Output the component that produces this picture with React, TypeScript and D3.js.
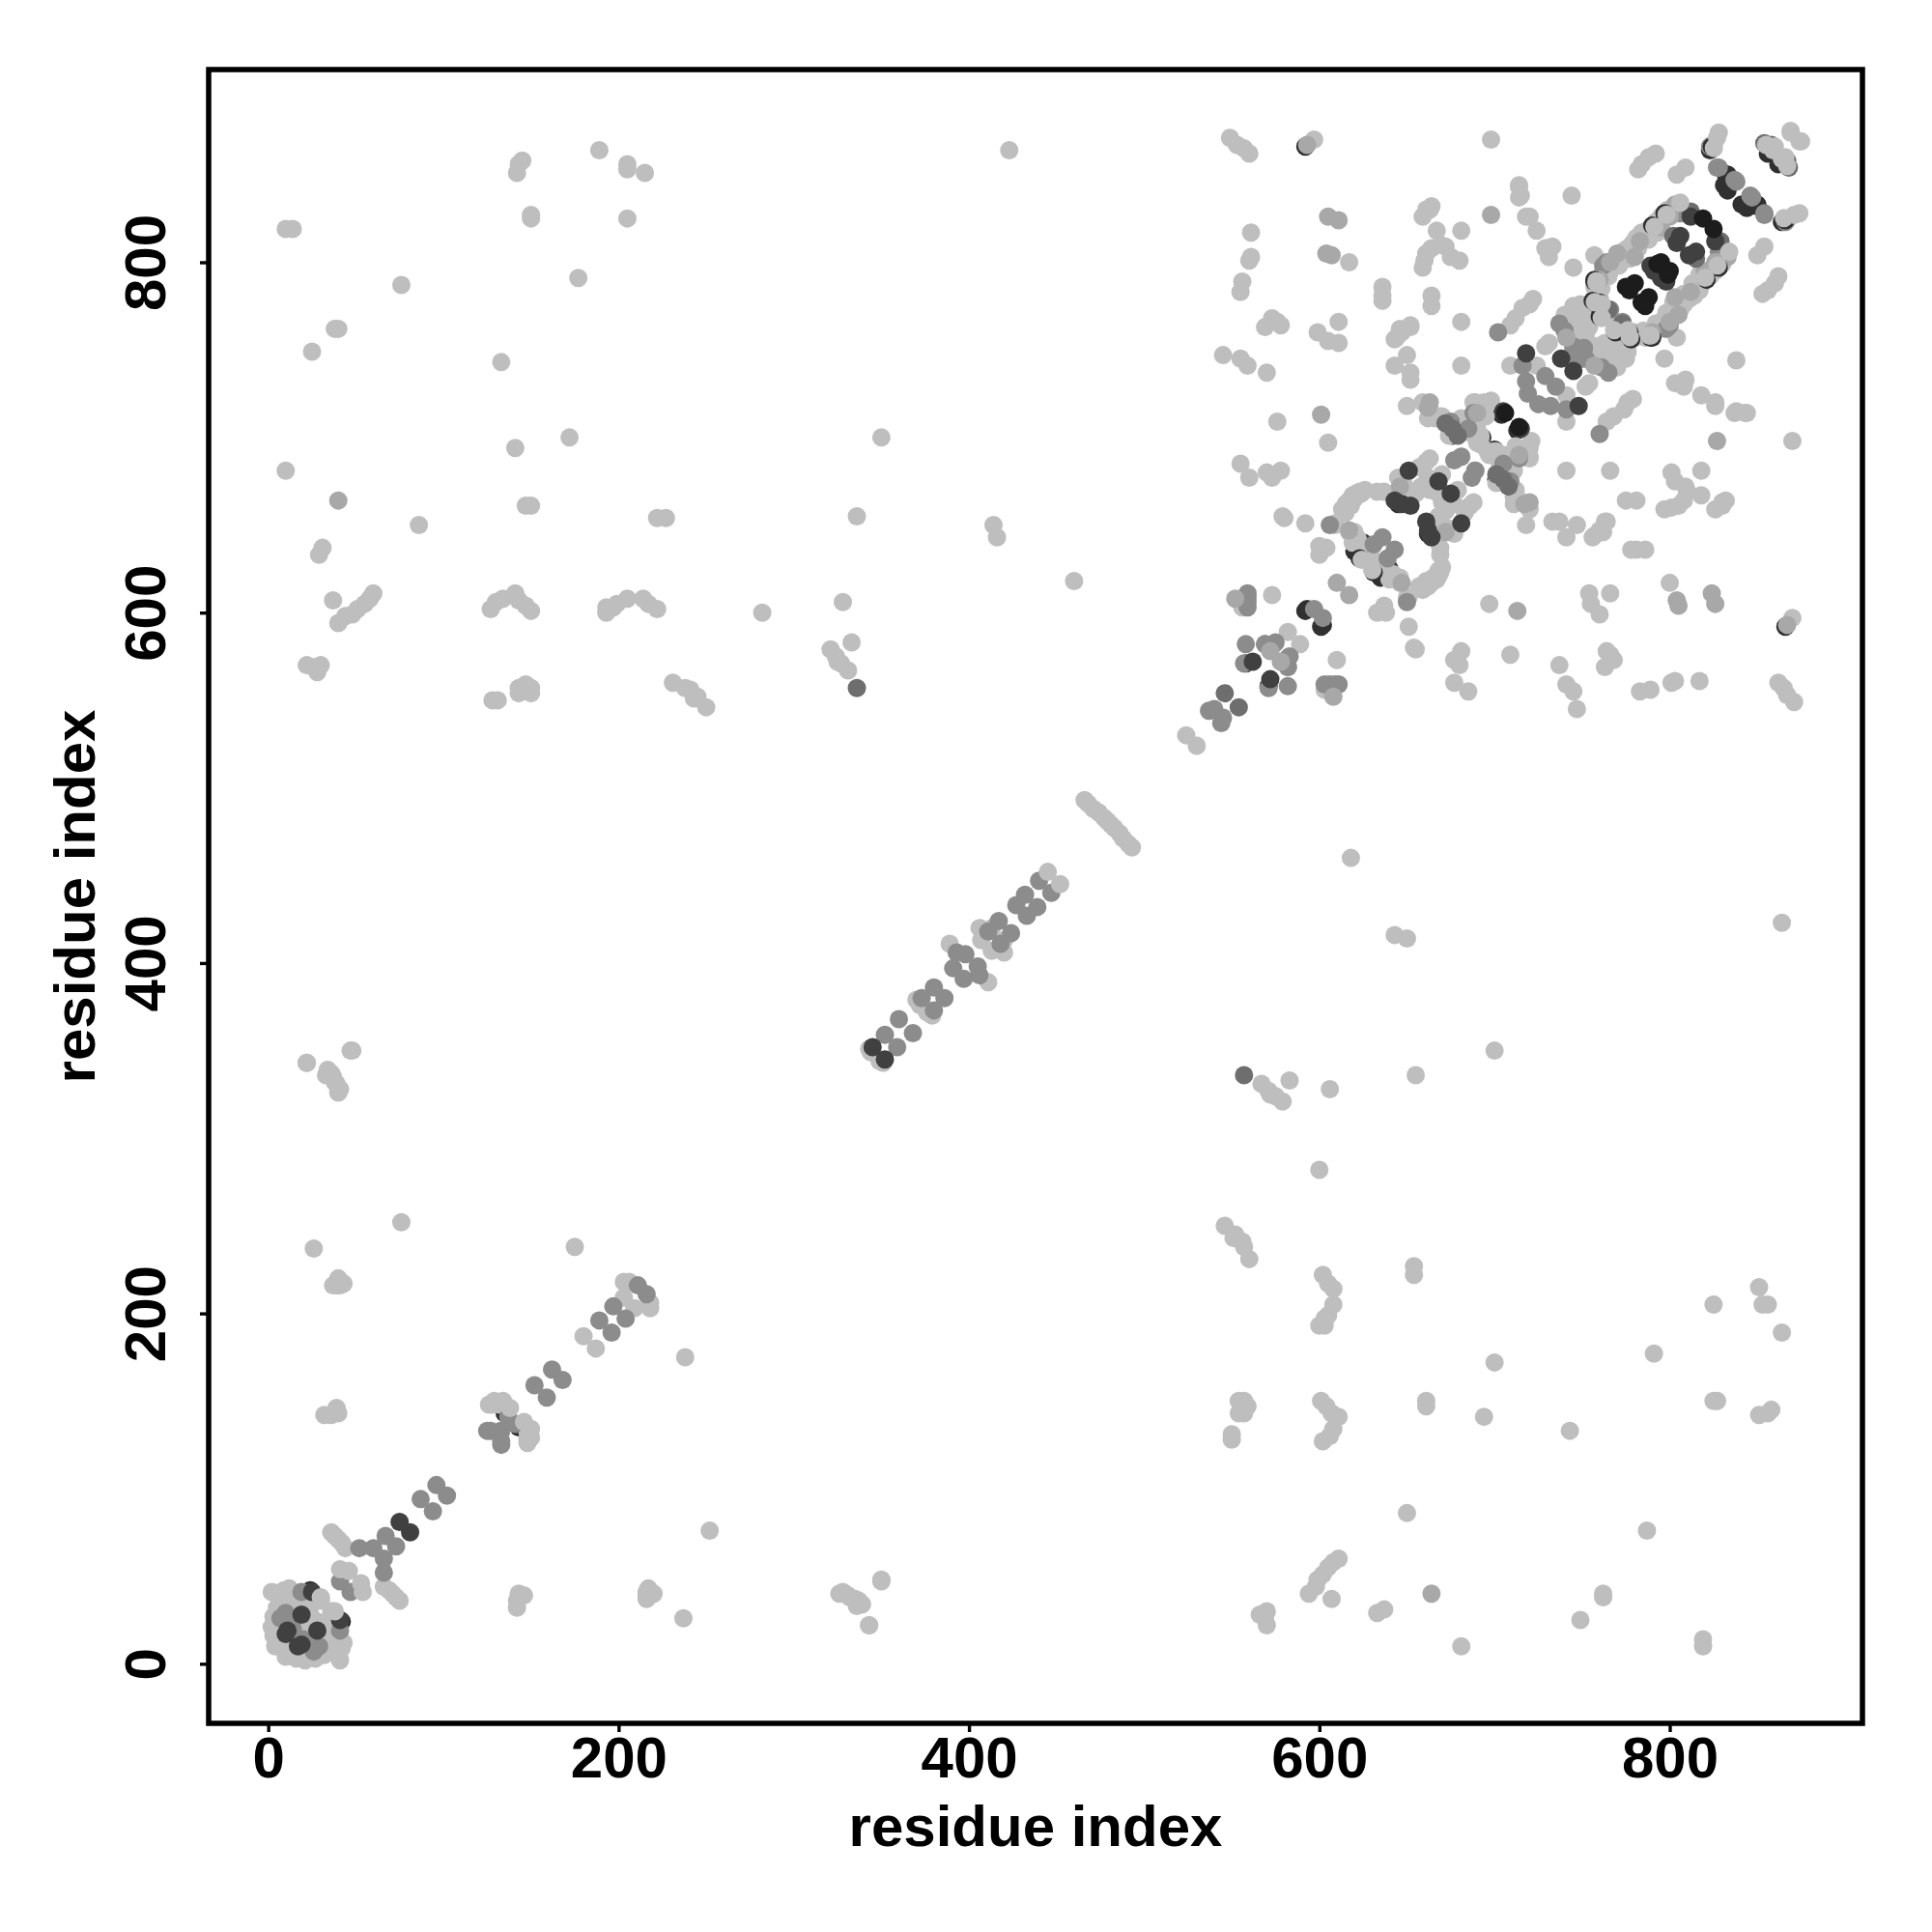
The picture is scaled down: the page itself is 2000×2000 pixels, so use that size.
import { useEffect, useRef } from 'react';
import * as d3 from 'd3';

type Contact = [number, number];

const axisTicks = [0, 200, 400, 600, 800];
const axisLabel = 'residue index';

// contacts are symmetric, so each pair is listed once with i < j and drawn twice
const edgeContacts: Contact[] = [
  [592, 866], [823, 864], [865, 857], [620, 635], [625, 640], [627, 638], [7, 18], [12, 17],
  [23, 38], [24, 42], [24, 39], [135, 143], [593, 602], [592, 601], [704, 713], [558, 571], [645, 662],
  [832, 850], [833, 850], [833, 841], [831, 844], [856, 862], [676, 701], [693, 700],
];

const paleContacts: Contact[] = [
  [10, 819], [14, 819], [76, 787], [38, 762], [40, 762], [25, 749], [10, 681], [86, 650],
  [29, 633], [31, 637], [37, 607], [40, 594], [44, 598], [48, 599], [51, 602], [55, 605], [58, 608],
  [60, 611], [22, 570], [26, 569], [28, 566], [30, 570], [142, 851], [145, 858], [143, 856], [150, 825],
  [150, 827], [133, 743], [141, 694], [147, 661], [150, 661], [127, 602], [130, 606], [134, 608],
  [141, 611], [143, 607], [147, 604], [150, 601], [128, 550], [131, 550], [143, 557], [150, 557],
  [143, 554], [150, 554], [147, 559], [189, 864], [205, 856], [205, 853], [215, 851], [205, 825],
  [177, 791], [172, 700], [222, 654], [227, 654], [193, 603], [197, 603], [199, 605], [193, 600],
  [205, 608], [214, 608], [217, 605], [222, 602], [231, 560], [241, 556], [245, 552], [250, 546],
  [238, 557], [243, 551], [282, 600], [328, 606], [333, 583], [321, 579], [324, 575], [327, 571],
  [331, 567], [325, 572], [336, 655], [350, 700], [414, 650], [416, 643], [423, 864], [460, 618],
  [26, 237], [76, 252], [175, 238], [39, 216], [41, 216], [43, 217], [22, 343], [34, 339], [37, 335],
  [39, 331], [41, 328], [48, 350], [35, 337], [32, 142], [36, 142], [40, 143], [39, 146], [216, 40],
  [220, 40], [216, 37], [326, 40], [332, 38], [336, 33], [337, 36], [350, 47], [343, 22],
  [5, 40], [9, 42], [12, 43], [2, 41], [3, 27], [2, 21], [3, 16], [4, 10], [6, 40], [10, 41],
  [13, 41], [4, 18], [4, 25], [5, 32], [12, 33], [15, 22], [12, 25], [20, 32], [24, 36], [30, 36], [22, 24],
  [14, 28], [17, 24], [21, 18], [23, 15], [26, 20], [28, 24], [12, 14], [14, 10], [16, 14], [19, 7],
  [24, 10], [28, 12], [30, 14], [33, 14], [34, 24], [37, 30], [36, 28],
  [36, 75], [40, 71], [44, 66], [38, 73], [42, 69], [129, 150], [126, 148], [134, 150],
  [137, 146], [132, 148], [128, 148], [180, 187], [203, 209], [203, 218], [206, 218],
  [466, 493], [468, 491], [471, 488], [474, 486], [477, 483], [479, 481], [524, 530],
  [406, 420], [407, 413], [413, 420], [370, 379], [372, 376], [343, 351], [344, 349], [389, 411],
  [549, 871], [553, 867], [557, 865], [560, 862], [597, 870], [698, 870], [744, 838], [714, 843],
  [714, 837], [720, 826], [724, 818], [681, 818], [667, 818], [663, 830], [664, 832], [659, 826],
  [661, 830], [669, 810], [672, 809], [660, 801], [659, 797], [661, 805], [664, 808], [675, 803],
  [680, 801], [730, 808], [733, 809], [729, 808], [757, 804], [745, 797], [809, 854], [804, 850],
  [784, 856], [788, 860], [792, 862], [782, 853], [561, 817], [560, 801], [556, 789], [555, 783],
  [561, 803], [576, 766], [569, 763], [573, 768], [578, 764], [599, 760], [605, 755], [611, 754],
  [611, 766], [617, 800], [636, 781], [636, 778], [636, 786], [664, 781], [664, 775], [681, 766],
  [647, 760], [643, 756], [652, 764], [646, 762], [650, 747], [643, 741], [652, 737], [652, 733],
  [681, 741], [545, 747], [555, 745], [559, 741], [570, 737], [716, 774], [722, 779], [712, 768],
  [720, 776], [709, 764], [576, 709], [605, 697], [555, 685], [560, 677], [570, 680], [578, 681],
  [573, 677], [580, 654], [592, 651], [731, 803], [715, 838], [714, 844], [718, 826], [644, 757],
  [652, 763], [573, 610], [556, 603], [582, 589],
  [579, 655], [609, 651], [613, 659], [617, 664], [621, 668], [626, 670], [633, 669], [637, 669],
  [615, 662], [619, 667], [623, 669], [600, 638], [604, 637], [600, 633], [617, 646], [620, 646],
  [622, 642], [619, 640], [625, 635], [628, 632], [631, 630], [624, 668], [620, 665], [618, 661],
  [615, 657], [609, 650], [645, 677], [648, 674], [663, 688], [670, 679], [662, 677], [665, 674],
  [657, 683], [661, 686], [650, 670], [655, 668], [658, 672], [663, 670], [668, 668], [644, 664],
  [650, 718], [659, 720], [663, 716], [670, 712], [689, 720], [698, 721], [677, 704], [681, 689],
  [692, 701], [685, 703], [695, 712], [681, 711], [668, 712], [662, 711], [694, 720], [689, 714],
  [672, 709], [676, 707], [692, 696], [690, 697], [692, 700], [690, 705], [683, 710], [679, 703],
  [674, 701], [666, 711], [680, 709], [688, 720],
  [724, 741], [709, 741], [731, 754], [729, 752], [747, 773],
  [754, 763], [748, 772], [750, 768], [745, 775], [752, 758], [740, 770], [743, 765], [747, 760],
  [745, 770], [749, 776], [752, 770], [745, 768], [757, 780], [758, 789], [762, 795], [768, 798],
  [773, 806], [779, 811], [784, 817], [790, 820], [795, 826], [799, 830], [804, 833], [761, 785],
  [765, 792], [770, 802], [776, 808], [781, 814], [787, 818], [792, 823], [797, 828], [766, 795],
  [771, 798], [777, 802], [782, 808], [788, 813], [793, 817], [760, 778], [765, 795], [773, 803],
  [780, 810], [789, 817], [797, 825], [760, 780], [757, 786], [765, 770], [760, 777],
  [824, 867], [869, 874], [875, 869],
];

const midContacts: Contact[] = [
  [41, 47], [52, 66], [60, 66], [67, 73], [87, 94], [96, 102], [125, 133], [127, 133], [133, 133],
  [137, 141], [152, 159], [162, 168], [189, 196], [197, 204], [211, 216], [10, 29], [7, 26], [10, 26],
  [19, 41], [27, 10], [14, 20], [13, 22],
  [352, 359], [360, 368], [373, 380], [380, 386], [391, 397], [393, 406], [398, 405],
  [411, 418], [417, 424], [427, 433], [432, 439], [440, 447], [537, 544], [540, 545], [558, 582],
  [557, 571], [569, 582], [575, 583], [582, 574], [582, 569], [559, 603], [559, 609], [559, 611],
  [559, 606], [597, 602], [606, 650], [636, 643], [631, 639], [702, 760],
  [688, 714], [675, 709], [685, 705], [681, 689], [677, 687], [716, 741], [718, 732], [729, 735], [719, 725],
  [737, 765], [740, 761], [745, 752], [745, 750], [751, 751], [746, 747], [764, 800], [762, 798], [759, 775],
  [766, 773], [806, 828], [812, 827], [827, 854], [838, 846], [837, 847], [828, 854], [823, 866],
];

const softContacts: Contact[] = [
  [593, 867], [605, 826], [611, 824], [607, 804], [604, 805], [698, 827], [601, 713], [610, 617],
  [552, 608], [617, 647], [663, 720], [690, 714], [572, 578], [741, 757], [803, 833], [858, 866],
  [40, 664], [646, 672], [770, 805], [783, 812], [800, 826], [760, 790], [766, 800], [780, 803], [795, 820],
  [662, 717],
];

const deepContacts: Contact[] = [
  [546, 554], [336, 557], [802, 815], [765, 773], [854, 868], [867, 858], [812, 829],
  [672, 708], [676, 705], [679, 701],
];

const darkContacts: Contact[] = [
  [25, 41], [19, 28], [11, 19], [10, 17], [75, 81], [345, 352], [651, 681], [668, 675],
  [647, 662], [652, 661], [643, 664], [705, 715], [562, 572], [718, 748], [738, 745],
  [806, 815], [804, 811], [789, 798], [791, 795], [812, 826],
];

const inkContacts: Contact[] = [
  [819, 825], [793, 799], [795, 800], [780, 788], [775, 786], [706, 714], [777, 784],
];

// thin dark crescents: a dark contact with a pale neighbour just over it
const stripeContacts: Contact[] = [
  [790, 821], [797, 828], [757, 789], [756, 778], [760, 769], [760, 777], [757, 790], [623, 631], [824, 866],
];

const paleTopContacts: Contact[] = [
  [791.2, 820.2], [798.2, 827.2], [758.2, 788.2], [757.2, 777.2], [761.2, 768.2], [761.2, 776.2], [758.2, 789.2], [624.2, 630.2], [825.2, 865.2],
  [30, 38], [41, 54], [46, 53], [138, 146], [445, 452], [806, 834], [827, 871], [828, 874], [860, 866], [864, 859], [867, 855],
];

// bottom layer first
const layers: { contacts: Contact[]; grey: string }[] = [
  { contacts: edgeContacts, grey: '#303030' },
  { contacts: paleContacts, grey: '#bebebe' },
  { contacts: midContacts, grey: '#8c8c8c' },
  { contacts: softContacts, grey: '#a8a8a8' },
  { contacts: deepContacts, grey: '#6e6e6e' },
  { contacts: darkContacts, grey: '#404040' },
  { contacts: inkContacts, grey: '#1c1c1c' },
  { contacts: stripeContacts, grey: '#303030' },
  { contacts: paleTopContacts, grey: '#bebebe' },
];

export default function App() {
  const svgRef = useRef<SVGSVGElement>(null);

  useEffect(() => {
    if (!svgRef.current) return;
    const svg = d3.select(svgRef.current);
    svg.selectAll('*').remove();

    const left = 216;
    const right = 1928;
    const top = 72;
    const bottom = 1784;

    const x = d3.scaleLinear().domain([-34, 910]).range([left, right]);
    const y = d3.scaleLinear().domain([-34, 910]).range([bottom, top]);

    layers.forEach(({ contacts, grey }) => {
      const both = contacts.flatMap(([i, j]) => [[i, j], [j, i]]);
      svg.append('g')
        .selectAll('circle')
        .data(both)
        .enter().append('circle')
        .attr('cx', d => x(d[0]))
        .attr('cy', d => y(d[1]))
        .attr('r', 9.5)
        .attr('fill', grey);
    });

    const xAxis = svg.append('g')
      .attr('transform', `translate(0,${bottom})`)
      .call(d3.axisBottom(x).tickValues(axisTicks).tickSize(9).tickFormat(d3.format('d')));
    const yAxis = svg.append('g')
      .attr('transform', `translate(${left},0)`)
      .call(d3.axisLeft(y).tickValues(axisTicks).tickSize(9).tickFormat(d3.format('d')));

    [xAxis, yAxis].forEach(axis => {
      axis.select('.domain').remove();
      axis.selectAll('line').attr('stroke', '#000').attr('stroke-width', 3.4);
      axis.selectAll('text')
        .attr('font-family', '"Liberation Sans", Arial, sans-serif')
        .attr('font-weight', 'bold')
        .attr('font-size', 60)
        .attr('fill', '#000');
    });
    xAxis.selectAll('text').attr('y', 56).attr('dy', 0);
    yAxis.selectAll('text')
      .attr('x', 0)
      .attr('dy', 0)
      .attr('text-anchor', 'middle')
      .attr('transform', 'translate(-45.5,0) rotate(-90)');

    svg.append('rect')
      .attr('x', left)
      .attr('y', top)
      .attr('width', right - left)
      .attr('height', bottom - top)
      .attr('fill', 'none')
      .attr('stroke', '#000')
      .attr('stroke-width', 5.5);

    const labelStyle = (t: any) => t
      .attr('font-family', '"Liberation Sans", Arial, sans-serif')
      .attr('font-weight', 'bold')
      .attr('font-size', 60)
      .attr('text-anchor', 'middle')
      .text(axisLabel);

    svg.append('text')
      .attr('x', (left + right) / 2)
      .attr('y', 1911)
      .call(labelStyle);
    svg.append('text')
      .attr('transform', `translate(98,${(top + bottom) / 2}) rotate(-90)`)
      .call(labelStyle);
  }, []);

  return (
    <svg
      ref={svgRef}
      width={2000}
      height={2000}
      style={{ position: 'absolute', left: 0, top: 0, display: 'block', background: '#fff' }}
    />
  );
}
